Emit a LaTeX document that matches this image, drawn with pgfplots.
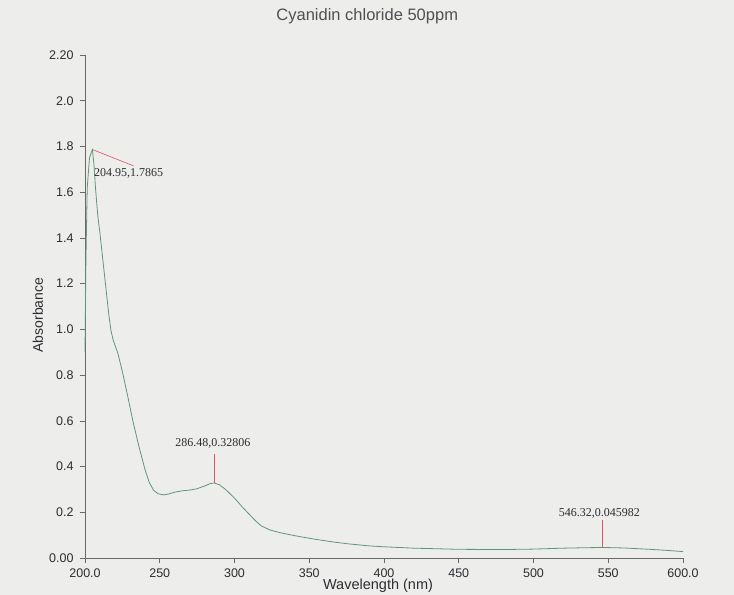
\documentclass[border=0pt]{standalone}
\usepackage{fontspec}
\setmainfont{Liberation Sans}
\newfontfamily\serifnum{Liberation Serif}
\usepackage{pgfplots}
\pgfplotsset{compat=1.18}
\definecolor{bg}{RGB}{237,237,235}
\definecolor{curve}{RGB}{100,148,122}
\definecolor{markc}{RGB}{226,82,98}
\definecolor{axisc}{RGB}{105,105,105}
\definecolor{txt}{RGB}{45,45,50}
\definecolor{titlec}{RGB}{80,80,85}

\pgfplotstableread{
nm A
200 0.90
200.6 1.30
201.5 1.62
203 1.75
204.95 1.7865
206 1.72
207 1.62
208.5 1.50
210 1.42
211.5 1.33
213 1.24
214.5 1.15
216 1.06
217.5 0.99
219 0.95
222 0.895
225 0.815
228.5 0.71
232 0.60
236 0.49
240 0.39
243 0.33
246 0.295
249 0.281
252.5 0.276
256 0.280
260 0.288
265 0.294
270 0.297
275 0.303
280 0.315
284 0.326
286.48 0.32806
290 0.320
294 0.300
300 0.262
305 0.225
309 0.197
314 0.163
318 0.140
324 0.122
331 0.110
340 0.098
353 0.083
365 0.071
376 0.062
390 0.053
400 0.049
420 0.043
450 0.038
480 0.037
500 0.039
520 0.043
535 0.045
546.32 0.045982
560 0.044
575 0.039
590 0.033
600 0.028
}\spectrum

\begin{document}
\begin{tikzpicture}
\fill[bg] (0,0) rectangle (734bp,595bp);
\useasboundingbox (0,0) rectangle (734bp,595bp);
\begin{axis}[
  at={(85bp,37bp)}, anchor=south west,
  scale only axis, width=598bp, height=503bp,
  xmin=200, xmax=600, ymin=0, ymax=2.2,
  axis x line=bottom, axis y line=left,
  axis line style={-, draw=axisc, line width=0.7pt},
  tick align=outside, major tick length=5bp,
  tick style={draw=axisc, line width=0.6pt},
  xtick={200,250,300,350,400,450,500,550,600},
  xticklabels={200.0,250,300,350,400,450,500,550,600.0},
  ytick={0,0.2,0.4,0.6,0.8,1.0,1.2,1.4,1.6,1.8,2.0,2.2},
  yticklabels={0.00,0.2,0.4,0.6,0.8,1.0,1.2,1.4,1.6,1.8,2.0,2.20},
  /pgf/number format/assume math mode=true,
  ticklabel style={font=\fontsize{12.5bp}{14bp}\selectfont, text=txt},
  xticklabel style={yshift=-2bp},
  yticklabel style={xshift=-3bp},
  clip=false,
  title={Cyanidin chloride 50ppm},
  title style={at={(axis description cs:0.472,1.066)}, anchor=center,
    font=\fontsize{16.5bp}{19bp}\selectfont, text=titlec},
  xlabel={Wavelength (nm)},
  xlabel style={at={(axis description cs:0.49,-0.056)}, anchor=center,
    font=\fontsize{14.5bp}{16bp}\selectfont, text=txt},
  ylabel={Absorbance},
  ylabel style={at={(axis description cs:-0.079,0.483)}, anchor=center, rotate=0,
    font=\fontsize{14bp}{16bp}\selectfont, text=txt},
]
\addplot[curve, line width=0.8pt, no markers] table[x=nm, y=A] {\spectrum};
% peak annotations
\draw[markc, line width=0.6pt] (axis cs:204.95,1.7865) -- (axis cs:232.5,1.715);
\node[anchor=west, inner sep=0pt, text=txt, font=\serifnum\fontsize{12bp}{14bp}\selectfont]
  at (axis cs:206,1.684) {204.95,1.7865};
\draw[markc, line width=0.6pt] (axis cs:286.48,0.32806) -- (axis cs:286.48,0.455);
\node[anchor=base, inner sep=0pt, text=txt, font=\serifnum\fontsize{12bp}{14bp}\selectfont]
  at (axis cs:285.5,0.487) {286.48,0.32806};
\draw[markc, line width=0.6pt] (axis cs:546.32,0.045982) -- (axis cs:546.32,0.166);
\node[anchor=base, inner sep=0pt, text=txt, font=\serifnum\fontsize{12bp}{14bp}\selectfont]
  at (axis cs:544,0.18) {546.32,0.045982};
\end{axis}
\end{tikzpicture}
\end{document}
